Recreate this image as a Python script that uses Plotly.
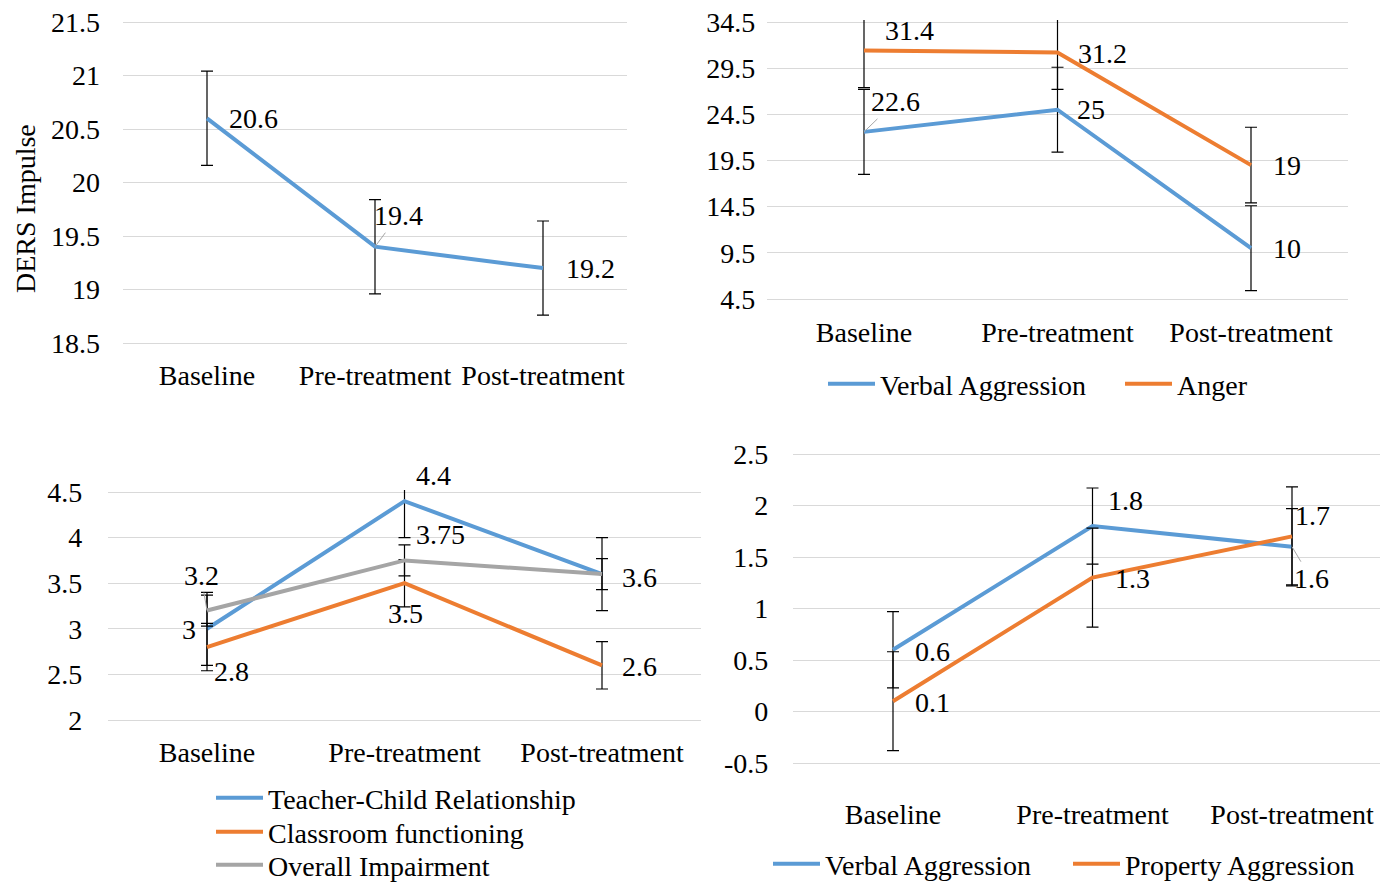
import plotly.graph_objects as go

W, H = 1380, 883
FONT = "Liberation Serif"
FS = 28
INK = "#000000"
GRID = "#D9D9D9"
BLUE, ORANGE, GRAY = "#5B9BD5", "#ED7D31", "#A5A5A5"

categories = ["Baseline", "Pre-treatment", "Post-treatment"]

# DERS impulse
ders_impulse = [20.6, 19.4, 19.2]
ders_impulse_err = [0.44, 0.44, 0.44]

# Verbal aggression / anger
verbal_aggr_a = [22.6, 25, 10]
verbal_aggr_a_err = [4.6, 4.6, 4.6]
anger = [31.4, 31.2, 19]
anger_err = [4.0, 4.0, 4.1]

# Teacher ratings
teacher_child = [3, 4.4, 3.6]
teacher_child_err = [0.4, 0.4, 0.4]
classroom = [2.8, 3.5, 2.6]
classroom_err = [0.26, 0.26, 0.26]
overall = [3.2, 3.75, 3.6]
overall_err = [0.17, 0.17, 0.17]

# Verbal / property aggression
verbal_aggr_b = [0.6, 1.8, 1.6]
verbal_aggr_b_err = [0.37, 0.37, 0.37]
property_aggr = [0.1, 1.3, 1.7]
property_aggr_err = [0.48, 0.48, 0.48]

ticks_1 = ["18.5", "19", "19.5", "20", "20.5", "21", "21.5"]
ticks_2 = ["4.5", "9.5", "14.5", "19.5", "24.5", "29.5", "34.5"]
ticks_3 = ["2", "2.5", "3", "3.5", "4", "4.5"]
ticks_4 = ["-0.5", "0", "0.5", "1", "1.5", "2", "2.5"]


def y_frame(v_lo, px_lo, v_hi, px_hi, pad=2):
    """Domain and range so that v_lo/v_hi land on the given pixel rows."""
    scale = (px_lo - px_hi) / (v_hi - v_lo)
    domain = [1 - (px_lo + pad) / H, 1 - (px_hi - pad) / H]
    rng = [v_lo - pad / scale, v_hi + pad / scale]
    return domain, rng


def x_frame(px_first, px_last, n=3):
    step = (px_last - px_first) / (n - 1)
    left, right = px_first - step / 2, px_last + step / 2
    rng = [-0.5, n - 0.5]
    if right > W:
        rng[1] = n - 1 + (W - px_last) / step
        right = W
    return [left / W, right / W], rng


panels = {
    1: dict(x=x_frame(207, 543), y=y_frame(18.5, 343, 21.5, 22), ticks=ticks_1,
            xstand=11, ystand=22),
    2: dict(x=x_frame(864, 1251), y=y_frame(4.5, 299, 34.5, 22), ticks=ticks_2,
            xstand=12, ystand=11),
    3: dict(x=x_frame(207, 602), y=y_frame(2, 720, 4.5, 492), ticks=ticks_3,
            xstand=11, ystand=25),
    4: dict(x=x_frame(893, 1292), y=y_frame(-0.5, 763, 2.5, 454), ticks=ticks_4,
            xstand=30, ystand=24),
}

fig = go.Figure()


def add_series(p, values, errs, color, name, legend=None):
    sfx = "" if p == 1 else str(p)
    fig.add_trace(go.Scatter(
        x=categories, y=values, name=name, mode="lines",
        line=dict(color=color, width=4),
        error_y=dict(type="data", array=errs, visible=True,
                     color=INK, thickness=1.2, width=6),
        xaxis="x" + sfx, yaxis="y" + sfx,
        showlegend=legend is not None, legend=legend or "legend",
        hoverinfo="skip",
    ))


add_series(1, ders_impulse, ders_impulse_err, BLUE, "DERS Impulse")
add_series(2, verbal_aggr_a, verbal_aggr_a_err, BLUE, "Verbal Aggression", "legend")
add_series(2, anger, anger_err, ORANGE, "Anger", "legend2")
add_series(3, teacher_child, teacher_child_err, BLUE, "Teacher-Child Relationship", "legend3")
add_series(3, classroom, classroom_err, ORANGE, "Classroom functioning", "legend4")
add_series(3, overall, overall_err, GRAY, "Overall Impairment", "legend5")
add_series(4, verbal_aggr_b, verbal_aggr_b_err, BLUE, "Verbal Aggression", "legend6")
add_series(4, property_aggr, property_aggr_err, ORANGE, "Property Aggression", "legend7")

layout = dict(
    width=W, height=H, margin=dict(l=0, r=0, t=0, b=0, autoexpand=False),
    paper_bgcolor="white", plot_bgcolor="white",
    font=dict(family=FONT, size=FS, color=INK),
    showlegend=True,
)

for p, cfg in panels.items():
    sfx = "" if p == 1 else str(p)
    (xd, xr), (yd, yr) = cfg["x"], cfg["y"]
    layout["xaxis" + sfx] = dict(
        domain=xd, range=xr, type="category", anchor="y" + sfx,
        showgrid=False, showline=False, zeroline=False, ticks="",
        ticklabelstandoff=cfg["xstand"], tickfont=dict(family=FONT, size=FS),
        fixedrange=True, automargin=False,
    )
    layout["yaxis" + sfx] = dict(
        domain=yd, range=yr, anchor="x" + sfx,
        tickvals=[float(t) for t in cfg["ticks"]], ticktext=cfg["ticks"],
        showgrid=True, gridcolor=GRID, gridwidth=1,
        showline=False, zeroline=False, ticks="",
        ticklabelstandoff=cfg["ystand"], tickfont=dict(family=FONT, size=FS),
        fixedrange=True, automargin=False,
    )

# one legend block per entry, laid out in pixel positions
legend_spots = {
    "legend": (828, 384), "legend2": (1125, 384),
    "legend3": (216, 798), "legend4": (216, 832), "legend5": (216, 865),
    "legend6": (773, 864), "legend7": (1073, 864),
}
for key, (lx, ly) in legend_spots.items():
    layout[key] = dict(
        x=(lx - 5) / W, y=1 - ly / H, xanchor="left", yanchor="middle",
        bgcolor="rgba(0,0,0,0)", borderwidth=0, itemwidth=47,
        font=dict(family=FONT, size=FS, color=INK), orientation="h",
    )

fig.update_layout(**layout)


def label(p, cat, val, text, dx=0, dy=0, anchor="left", leader=None):
    sfx = "" if p == 1 else str(p)
    if leader:
        fig.add_annotation(
            x=cat, y=val, xref="x" + sfx, yref="y" + sfx, text=text,
            showarrow=True, ax=leader[0], ay=leader[1], arrowhead=0,
            arrowwidth=1, arrowcolor="#A6A6A6", standoff=0,
            font=dict(family=FONT, size=FS, color=INK),
        )
    else:
        fig.add_annotation(
            x=cat, y=val, xref="x" + sfx, yref="y" + sfx, text=text,
            showarrow=False, xanchor=anchor, yanchor="middle",
            xshift=dx, yshift=dy,
            font=dict(family=FONT, size=FS, color=INK),
        )


B, P, T = categories
# panel 1
label(1, B, ders_impulse[0], "20.6", dx=20, dy=0)
label(1, P, ders_impulse[1], "19.4", leader=(23, -31))
label(1, T, ders_impulse[2], "19.2", dx=21, dy=0)
# panel 2
label(2, B, anger[0], "31.4", dx=19, dy=20)
label(2, P, anger[1], "31.2", dx=18, dy=-1)
label(2, T, anger[2], "19", dx=20, dy=0)
label(2, B, verbal_aggr_a[0], "22.6", leader=(31, -30))
label(2, P, verbal_aggr_a[1], "25", dx=17, dy=0)
label(2, T, verbal_aggr_a[2], "10", dx=20, dy=0)
# panel 3
label(3, P, teacher_child[1], "4.4", dx=9, dy=26)
label(3, P, overall[1], "3.75", dx=9, dy=26)
label(3, P, classroom[1], "3.5", anchor="center", dx=1, dy=-30)
label(3, B, overall[0], "3.2", leader=(-6, -35))
label(3, B, teacher_child[0], "3", anchor="right", dx=-9, dy=-1)
label(3, B, classroom[0], "2.8", dx=5, dy=-24)
label(3, T, overall[2], "3.6", dx=18, dy=-3)
label(3, T, classroom[2], "2.6", dx=18, dy=-1)
# panel 4
label(4, B, verbal_aggr_b[0], "0.6", dx=20, dy=-2)
label(4, B, property_aggr[0], "0.1", dx=20, dy=-1)
label(4, P, verbal_aggr_b[1], "1.8", dx=13, dy=26)
label(4, P, property_aggr[1], "1.3", dx=20, dy=-1)
label(4, T, property_aggr[2], "1.7", dx=1, dy=21)
label(4, T, verbal_aggr_b[2], "1.6", leader=(19, 32))

# vertical axis title of the first panel
fig.add_annotation(
    x=25 / W, y=1 - 209 / H, xref="paper", yref="paper", text="DERS Impulse",
    xanchor="center", yanchor="middle",
    textangle=-90, showarrow=False, font=dict(family=FONT, size=FS, color=INK),
)

fig.write_html("out.html")
